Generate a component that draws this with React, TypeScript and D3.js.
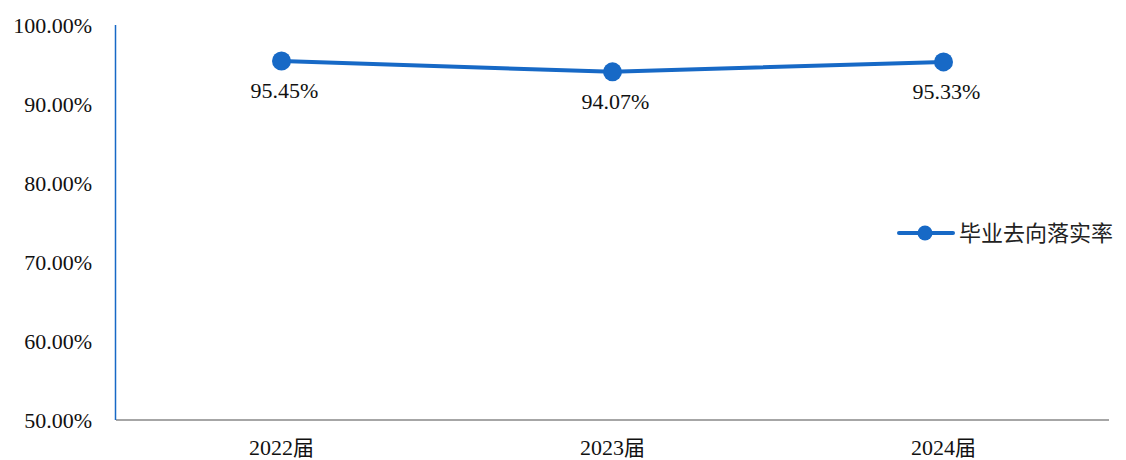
import React from "react";
import * as d3 from "d3";

const categories = ["2022届", "2023届", "2024届"];
const values = [95.45, 94.07, 95.33];
const yTicks = [50, 60, 70, 80, 90, 100];
const seriesName = "毕业去向落实率";

const W = 1126;
const H = 460;
const color = "#1769c6";
const serif = "'Times New Roman', Times, 'Liberation Serif', 'DejaVu Serif', serif";
const cjk = "'Noto Sans CJK SC', sans-serif";

export default function App() {
  const x = d3.scaleBand<string>().domain(categories).range([116, 1109]);
  const y = d3.scaleLinear().domain([50, 100]).range([420, 25]);
  const line = d3
    .line<number>()
    .x((_, i) => (x(categories[i]) as number) + x.bandwidth() / 2)
    .y((d) => y(d));

  return (
    <div style={{ position: "absolute", left: 0, top: 0, width: W, height: H, fontFamily: serif }}>
      <svg width={W} height={H} style={{ display: "block", background: "#fff" }}>
        {yTicks.map((t) => (
          <text key={t} x={92} y={y(t)} dy="0.35em" textAnchor="end" fontSize={22} fill="#111">
            {t.toFixed(2) + "%"}
          </text>
        ))}
        <line x1={116} x2={1109} y1={420} y2={420} stroke="#888" strokeWidth={1.5} />
        <line x1={115.5} x2={115.5} y1={25} y2={420} stroke={color} strokeWidth={1.5} />
        {categories.map((c) => (
          <text
            key={c}
            x={(x(c) as number) + x.bandwidth() / 2}
            y={455}
            textAnchor="middle"
            fontSize={22}
            fill="#111"
          >
            {c.replace("届", "")}
            <tspan style={{ fontFamily: cjk }} fontSize={21}>届</tspan>
          </text>
        ))}
        <path d={line(values) || ""} fill="none" stroke={color} strokeWidth={4} />
        {values.map((v, i) => {
          const cx = (x(categories[i]) as number) + x.bandwidth() / 2;
          return (
            <g key={i}>
              <circle cx={cx} cy={y(v)} r={9.5} fill={color} />
              <text x={cx + 3} y={y(v) + 29} dy="0.35em" textAnchor="middle" fontSize={22} fill="#111">
                {v.toFixed(2) + "%"}
              </text>
            </g>
          );
        })}
        <line x1={899} x2={953} y1={233} y2={233} stroke={color} strokeWidth={4} strokeLinecap="round" />
        <circle cx={925} cy={233} r={7.5} fill={color} />
        <text x={959} y={233} dy="0.36em" fontSize={22} fill="#222" style={{ fontFamily: cjk }}>
          {seriesName}
        </text>
      </svg>
    </div>
  );
}
